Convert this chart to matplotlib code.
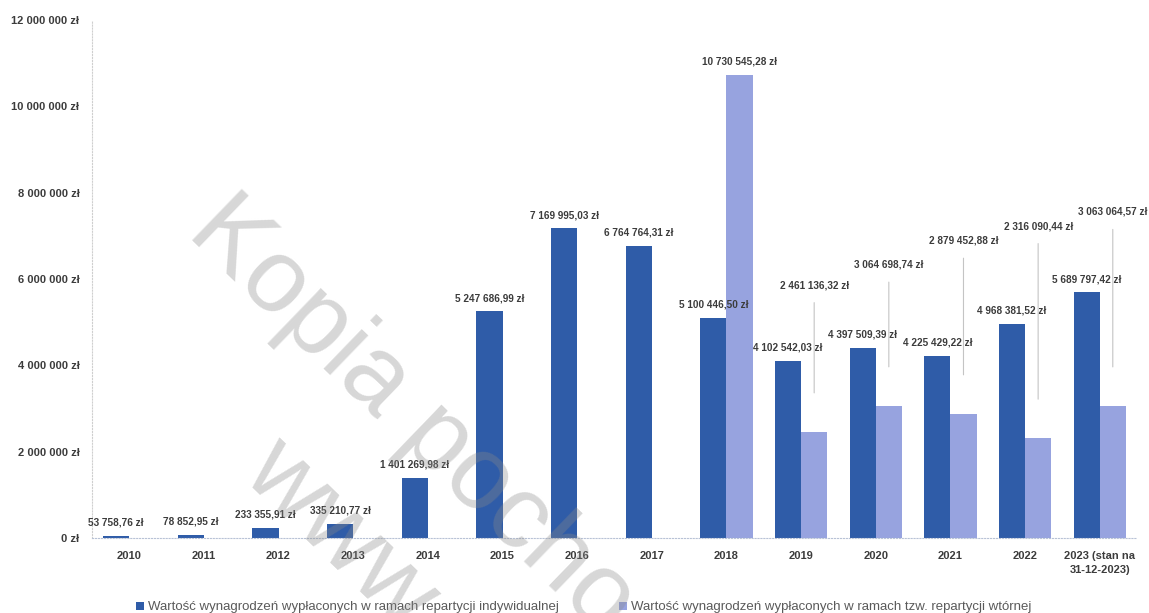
import numpy as np
import matplotlib.pyplot as plt
from matplotlib.ticker import FuncFormatter

# data
years = ['2010', '2011', '2012', '2013', '2014', '2015', '2016', '2017',
         '2018', '2019', '2020', '2021', '2022', '2023 (stan na\n31-12-2023)']
individual = [53758.76, 78852.95, 233355.91, 335210.77, 1401269.98, 5247686.99,
              7169995.03, 6764764.31, 5100446.50, 4102542.03, 4397509.39,
              4225429.22, 4968381.52, 5689797.42]
secondary = [None, None, None, None, None, None, None, None,
             10730545.28, 2461136.32, 3064698.74, 2879452.88, 2316090.44, 3063064.57]
# extra lift (pt) of the dragged labels of the secondary series
secondary_lift = [0, 0, 0, 0, 0, 0, 0, 0, 0, 102, 98, 121, 149, 136]

series_names = ['Wartość wynagrodzeń wypłaconych w ramach repartycji indywidualnej',
                'Wartość wynagrodzeń wypłaconych w ramach tzw. repartycji wtórnej']

dark = '#2f5ca8'
light = '#97a3df'
txt = '#3c3c3c'

plt.rcParams['font.family'] = ['Liberation Sans', 'DejaVu Sans']


def pl(v, decimals=2):
    s = f'{v:,.{decimals}f}'.replace(',', ' ').replace('.', ',')
    return s + ' zł'


fig = plt.figure(figsize=(11.49, 6.13), dpi=100)
ax = fig.add_axes([0.080, 0.1223, 0.9096, 0.8451])

x = np.arange(len(years))
w = 0.35

b1 = ax.bar(x - w / 2, individual, w, color=dark, label=series_names[0], zorder=2)
idx = [i for i, v in enumerate(secondary) if v is not None]
b2 = ax.bar(x[idx] + w / 2, [secondary[i] for i in idx], w, color=light,
            label=series_names[1], zorder=2)

lab_kw = dict(ha='center', va='bottom', fontsize=7.2, fontweight='bold', color=txt,
              textcoords='offset points')

# labels of the first series
for xi, v in zip(x, individual):
    ax.annotate(pl(v), (xi - w / 2, v), xytext=(0, 6), **lab_kw)

# labels of the second series, some moved up with a leader line
for i in idx:
    v = secondary[i]
    lift = secondary_lift[i]
    if lift == 0:
        ax.annotate(pl(v), (x[i] + w / 2, v), xytext=(0, 6), **lab_kw)
    else:
        ax.annotate(pl(v), (x[i] + w / 2, v), xytext=(0, lift), **lab_kw,
                    arrowprops=dict(arrowstyle='-', color='#c4c4c4', lw=0.8,
                                    shrinkA=7, shrinkB=28))

ax.set_xlim(-0.5, len(years) - 0.5)
ax.set_ylim(0, 12000000)
ax.set_yticks(np.arange(0, 12000001, 2000000))
ax.yaxis.set_major_formatter(FuncFormatter(lambda v, p: pl(v, 0)))
ax.set_xticks(x)
ax.set_xticklabels(years, linespacing=1.5)
ax.tick_params(axis='both', length=0, labelsize=8, labelcolor=txt)
ax.tick_params(axis='y', pad=9)
ax.tick_params(axis='x', pad=9)
for lab in ax.get_xticklabels() + ax.get_yticklabels():
    lab.set_fontweight('bold')

for s in ['top', 'right']:
    ax.spines[s].set_visible(False)
ax.spines['left'].set_color('#cfcfcf')
ax.spines['left'].set_linestyle(':')
ax.spines['left'].set_linewidth(0.8)
ax.spines['bottom'].set_color('#b8c2d6')
ax.spines['bottom'].set_linestyle(':')
ax.spines['bottom'].set_linewidth(0.8)

fig.legend(handles=[b1, b2], loc='center', bbox_to_anchor=(0.508, 0.009), ncol=2,
           frameon=False, labelcolor='#5a5a5a', handlelength=0.6,
           handleheight=0.6, handletextpad=0.3, columnspacing=4.6,
           prop={'family': ['Liberation Sans', 'DejaVu Sans'], 'size': 9.5})

# watermark of the scanned copy
wm = dict(rotation=-44, rotation_mode='anchor', ha='left', va='baseline', fontsize=75,
          color='#8a8a8a', alpha=0.34, zorder=10)
fig.text(185 / 1149, 1 - 234 / 613, 'Kopia pocho', **wm)
fig.text(240 / 1149, 1 - 476 / 613, 'www', **wm)

fig.savefig('out.png', dpi=100)
